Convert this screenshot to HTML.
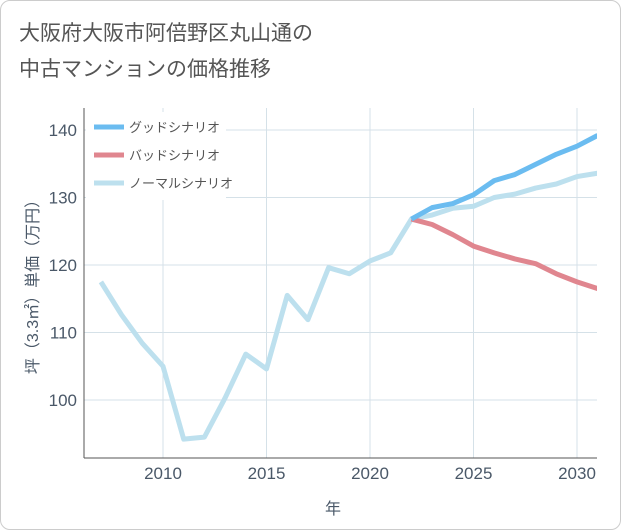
<!DOCTYPE html>
<html><head><meta charset="utf-8">
<style>
body{margin:0;background:#fff;font-family:"Liberation Sans","Noto Sans CJK JP",sans-serif;}
#wrap{position:relative;width:619px;height:528px;border:1px solid #ccc;border-radius:10px;overflow:hidden;background:#fff;}
.t{position:absolute;left:18px;font-size:21px;color:#555;}
</style></head><body>
<div id="wrap">
<div class="t" style="top:16px">大阪府大阪市阿倍野区丸山通の</div>
<div class="t" style="top:52px">中古マンションの価格推移</div>
<svg id="svg" width="621" height="530" style="position:absolute;left:-1px;top:-1px"></svg>
</div>
<script>
const years=[2007,2008,2009,2010,2011,2012,2013,2014,2015,2016,2017,2018,2019,2020,2021,2022,2023,2024,2025,2026,2027,2028,2029,2030,2031];
const normal=[117.5,112.6,108.4,105,94.2,94.5,100.3,106.8,104.6,115.5,111.9,119.6,118.7,120.6,121.8,126.8,127.4,128.4,128.7,130,130.5,131.4,132,133.1,133.6];
const goodYears=[2022,2023,2024,2025,2026,2027,2028,2029,2030,2031];
const good=[126.8,128.5,129.1,130.4,132.5,133.4,134.9,136.4,137.6,139.2];
const bad=[126.8,126,124.5,122.8,121.8,120.9,120.2,118.7,117.5,116.5];
const xTicks=[2010,2015,2020,2025,2030];
const yTicks=[100,110,120,130,140];
const svg=document.getElementById('svg');const NS='http://www.w3.org/2000/svg';
const L=84,R=597,T=108,B=458;
const x=v=>163+(v-2010)*(577-163)/20;
const y=v=>400-(v-100)*(400-130)/40;
function mk(t,a,p){const e=document.createElementNS(NS,t);for(const k in a)e.setAttribute(k,a[k]);(p||svg).appendChild(e);return e;}
for(const t of xTicks){const g=mk('line',{x1:x(t),x2:x(t),y1:T,y2:B,stroke:'#d5e1e8','stroke-width':1});
const tx=mk('text',{x:x(t),y:479,'text-anchor':'middle','font-size':17,fill:'#4a5868'});tx.textContent=t;}
for(const t of yTicks){const g=mk('line',{x1:L,x2:R,y1:y(t),y2:y(t),stroke:'#d5e1e8','stroke-width':1});
const tx=mk('text',{x:77,y:y(t)+6,'text-anchor':'end','font-size':17,fill:'#4a5868'});tx.textContent=t;}
const ax=mk('line',{x1:L,x2:L,y1:T,y2:B,stroke:'#555'});
const bx=mk('line',{x1:L,x2:R,y1:B,y2:B,stroke:'#555'});
const xt=mk('text',{x:333,y:514,'text-anchor':'middle','font-size':16,fill:'#4a5868'});xt.textContent='年';
const yt=mk('text',{x:0,y:0,'text-anchor':'middle','font-size':16,fill:'#4a5868',transform:'translate(38,283) rotate(-90)'});yt.textContent='坪（3.3㎡）単価（万円）';
function line(xs,vs,col,name){const d=vs.map((v,i)=>(i?'L':'M')+x(xs[i])+','+y(v)).join(' ');const p=mk('path',{d,fill:'none',stroke:col,'stroke-width':5,'stroke-linejoin':'round'});}
const clip=mk('clipPath',{id:'c'});mk('rect',{x:L,y:T,width:R-L,height:B-T},clip);
line(years,normal,'#bde0ee','normal-scenario-line');
line(goodYears,bad,'#e0868f','bad-scenario-line');
line(goodYears,good,'#6bbcf0','good-scenario-line');
svg.querySelectorAll('path').forEach(p=>p.setAttribute('clip-path','url(#c)'));
const lg=mk('rect',{x:86,y:112,width:140,height:88,fill:'#fff'});
[['グッドシナリオ','#6bbcf0'],['バッドシナリオ','#e0868f'],['ノーマルシナリオ','#bde0ee']].forEach((e,i)=>{const yy=127+i*28;
const l=mk('line',{x1:94,x2:124,y1:yy,y2:yy,stroke:e[1],'stroke-width':5});
const t=mk('text',{x:129,y:yy+5,'font-size':13,fill:'#555'});t.textContent=e[0];});
</script>
</body></html>
